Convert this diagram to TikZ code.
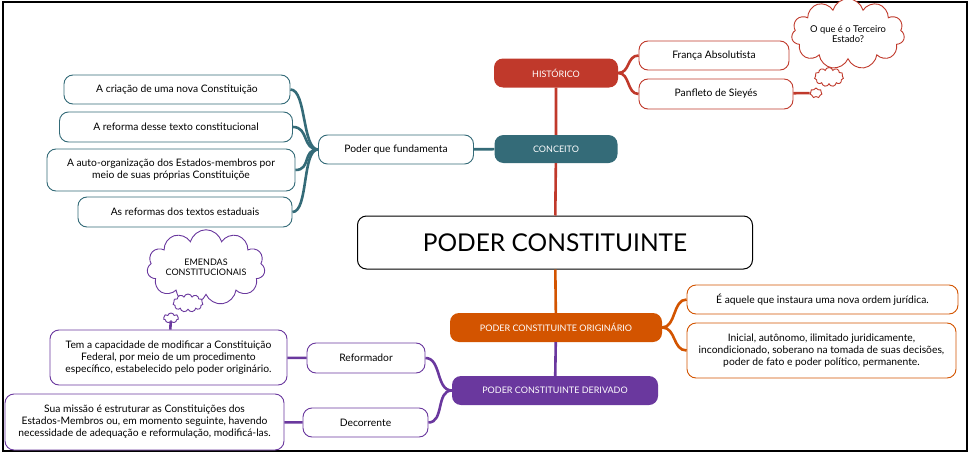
\documentclass[tikz,border=0pt]{standalone}
\usepackage{fontspec}
\setmainfont{Lato}
\usetikzlibrary{shapes.symbols}
\definecolor{hred}{RGB}{192,57,43}
\definecolor{cteal}{RGB}{52,107,120}
\definecolor{porange}{RGB}{211,84,0}
\definecolor{dpurple}{RGB}{106,56,158}
\begin{document}
\begin{tikzpicture}[x=1pt,y=-1pt,
  topic/.style={rounded corners=9pt,minimum height=29pt,text=white,inner sep=2pt,font=\fontsize{9}{10}\selectfont},
  leaf/.style={draw,fill=white,rounded corners=9pt,line width=0.9pt,inner sep=1pt,align=center,font=\fontsize{10.3}{12}\selectfont},
  idea/.style={cloud,cloud puffs=11,aspect=2,draw,fill=white,line width=0.9pt,inner sep=-2pt,align=center,font=\fontsize{9.4}{10.5}\selectfont},
  branch/.style={line width=2.6pt}]
\useasboundingbox (0,0) rectangle (970,455);
\draw[line width=2pt] (3,2) rectangle (967,451);
\node[draw,rounded corners=9pt,line width=1pt,minimum width=395pt,minimum height=53pt,font=\fontsize{24.5}{27}\selectfont] (main) at (555,242.5) {PODER CONSTITUINTE};
\node[topic,fill=hred,minimum width=124pt] (hist) at (556,73) {HISTÓRICO};
\node[leaf,draw=hred,minimum width=150pt,minimum height=29pt] (franca) at (714,55.5) {França Absolutista};
\node[leaf,draw=hred,minimum width=154pt,minimum height=30pt] (panf) at (716,94) {Panfleto de Sieyés};
\node[idea,draw=hred,minimum width=113pt,minimum height=55pt] (terc) at (848,34) {O que é o Terceiro\\Estado?};
\node[idea,draw=hred,inner sep=0pt,minimum width=29pt,minimum height=19pt] (terca) at (829,77) {};
\node[idea,draw=hred,inner sep=0pt,cloud puffs=7,minimum width=12pt,minimum height=10pt] (tercb) at (816,93) {};
\node[topic,fill=cteal,minimum width=123pt,minimum height=28pt] (conc) at (556,149) {CONCEITO};
\node[leaf,draw=cteal,minimum width=155pt,minimum height=29pt] (fund) at (396,149.5) {Poder que fundamenta};
\node[leaf,draw=cteal,minimum width=226pt,minimum height=29pt] (ca) at (177,89.5) {A criação de uma nova Constituição};
\node[leaf,draw=cteal,minimum width=233pt,minimum height=30pt] (cb) at (176,127) {A reforma desse texto constitucional};
\node[leaf,draw=cteal,minimum width=248pt,minimum height=42pt] (cc) at (171,170) {A auto-organização dos Estados-membros por\\meio de suas próprias Constituiçõe};
\node[leaf,draw=cteal,minimum width=214pt,minimum height=30pt] (cd) at (185,212) {As reformas dos textos estaduais};
\node[topic,fill=porange,minimum width=212pt] (orig) at (556,327.5) {PODER CONSTITUINTE ORIGINÁRIO};
\node[leaf,draw=porange,minimum width=271pt,minimum height=29pt] (oa) at (822.5,299.5) {É aquele que instaura uma nova ordem jurídica.};
\node[leaf,draw=porange,minimum width=269pt,minimum height=55pt] (ob) at (821.5,350.5) {Inicial, autônomo, ilimitado juridicamente,\\incondicionado, soberano na tomada de suas decisões,\\poder de fato e poder político, permanente.};
\node[topic,fill=dpurple,minimum width=206pt] (deriv) at (555,390.5) {PODER CONSTITUINTE DERIVADO};
\node[leaf,draw=dpurple,minimum width=118pt,minimum height=30pt] (refo) at (366,358) {Reformador};
\node[leaf,draw=dpurple,minimum width=125pt,minimum height=29pt] (decor) at (365.5,422.5) {Decorrente};
\node[leaf,draw=dpurple,minimum width=237pt,minimum height=55pt] (tem) at (168.5,357.5) {Tem a capacidade de modificar a Constituição\\Federal, por meio de um procedimento\\específico, estabelecido pelo poder originário.};
\node[leaf,draw=dpurple,minimum width=279pt,minimum height=56pt] (missao) at (144.5,422) {Sua missão é estruturar as Constituições dos\\Estados-Membros ou, em momento seguinte, havendo\\necessidade de adequação e reformulação, modificá-las.};
\node[idea,draw=dpurple,minimum width=118pt,minimum height=49pt,font=\fontsize{9}{10.5}\selectfont] (emend) at (206,267.5) {EMENDAS\\CONSTITUCIONAIS};
\node[idea,draw=dpurple,inner sep=0pt,minimum width=30pt,minimum height=18pt] (emenda) at (188,303) {};
\node[idea,draw=dpurple,inner sep=0pt,cloud puffs=7,minimum width=15pt,minimum height=10pt] (emendb) at (171,318) {};
\draw[branch,hred] (hist) -- (conc) (conc) -- (main);
\draw[branch,porange] (main) -- (orig);
\draw[branch,dpurple] (orig) -- (deriv);
\foreach \n in {franca,panf}
\draw[branch,hred] (hist.east) .. controls +(12,0) and +(-12,0) .. (\n.west);
\draw[branch,hred] (panf) -- (tercb);
\draw[branch,cteal] (conc) -- (fund);
\foreach \n in {ca,cb,cc,cd}
\draw[branch,cteal] (fund.west) .. controls +(-16,0) and +(16,0) .. (\n.east);
\foreach \n in {oa,ob}
\draw[branch,porange] (orig.east) .. controls +(14,0) and +(-14,0) .. (\n.west);
\foreach \n in {refo,decor}
\draw[branch,dpurple] (deriv.west) .. controls +(-16,0) and +(16,0) .. (\n.east);
\draw[branch,dpurple] (refo) -- (tem) (decor) -- (missao) (tem) -- (emendb);
\end{tikzpicture}
\end{document}
